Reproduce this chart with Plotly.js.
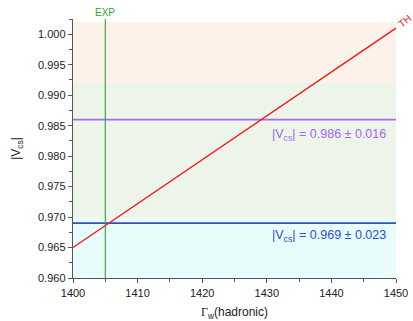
<!DOCTYPE html>
<html><head><meta charset="utf-8">
<script src="https://cdn.plot.ly/plotly-3.0.1.min.js"></script>
<style>body{margin:0;background:#fff}#c{width:413px;height:321px}</style>
</head><body><div id="c"></div>
<script>
// Data
const thX = [1400, 1450];
const thY = [0.965, 1.001];
const expX = 1405;
const measA = {value: 0.986, err: 0.016};
const measB = {value: 0.969, err: 0.023};
const xRange = [1400, 1450];
const yRange = [0.960, 1.0025];

const aLo = measA.value - measA.err, aHi = measA.value + measA.err;
const bLo = measB.value - measB.err, bHi = measB.value + measB.err;

const traces = [
  {x: xRange, y: [measB.value, measB.value], mode: 'lines', line: {color: '#3450b4', width: 1.6}, hoverinfo: 'skip'},
  {x: xRange, y: [measA.value, measA.value], mode: 'lines', line: {color: '#a86ce8', width: 1.8}, hoverinfo: 'skip'},
  {x: thX, y: thY, mode: 'lines', line: {color: '#f01818', width: 1.4}, hoverinfo: 'skip'},
  {x: [expX, expX], y: yRange, mode: 'lines', line: {color: '#2aa62a', width: 1.1}, hoverinfo: 'skip', cliponaxis: false}
];

const shapes = [
  {type: 'rect', xref: 'x', yref: 'y', x0: xRange[0], x1: xRange[1], y0: Math.max(aLo, bHi), y1: aHi, fillcolor: '#fdf2e9', line: {width: 0}, layer: 'below'},
  {type: 'rect', xref: 'x', yref: 'y', x0: xRange[0], x1: xRange[1], y0: aLo, y1: Math.min(aHi, bHi), fillcolor: '#edf4ea', line: {width: 0}, layer: 'below'},
  {type: 'rect', xref: 'x', yref: 'y', x0: xRange[0], x1: xRange[1], y0: bLo, y1: aLo, fillcolor: '#e9fcfc', line: {width: 0}, layer: 'below'}
];

const font = 'Liberation Sans, Arial, sans-serif';
const annotations = [
  {x: expX, y: 1, xref: 'x', yref: 'paper', yanchor: 'bottom', text: 'EXP', showarrow: false, font: {family: font, size: 10, color: '#2aa62a'}, yshift: -1},
  {x: thX[1], y: thY[1], xref: 'x', yref: 'y', text: 'TH', showarrow: false, textangle: -38, font: {family: font, size: 10, color: '#f01818'}, xshift: 8, yshift: 7},
  {x: 1448.8, y: measA.value, xref: 'x', yref: 'y', xanchor: 'right', yanchor: 'top', yshift: -5, text: '|V<sub>cs</sub>| = ' + measA.value.toFixed(3) + ' ± ' + measA.err.toFixed(3), showarrow: false, font: {family: font, size: 12.5, color: '#a468e6'}},
  {x: 1448.8, y: measB.value, xref: 'x', yref: 'y', xanchor: 'right', yanchor: 'top', yshift: -3, text: '|V<sub>cs</sub>| = ' + measB.value.toFixed(3) + ' ± ' + measB.err.toFixed(3), showarrow: false, font: {family: font, size: 12.5, color: '#2b4fd0'}}
];

const layout = {
  width: 413, height: 321,
  margin: {l: 73, r: 17, t: 19, b: 43},
  paper_bgcolor: '#fff', plot_bgcolor: 'rgba(0,0,0,0)',
  showlegend: false,
  font: {family: font, size: 11, color: '#222'},
  xaxis: {
    range: xRange, showgrid: false, zeroline: false, showline: true, linecolor: '#5a5550', linewidth: 1.3,
    ticks: 'outside', ticklen: 4, tickcolor: '#5a5550', dtick: 10, tick0: 1400,
    minor: {dtick: 5, ticks: 'outside', ticklen: 2.5, tickcolor: '#5a5550'},
    tickfont: {family: font, size: 11, color: '#222'},
    title: {text: '<span style="font-family:Liberation Serif,Times New Roman,serif">Γ</span><sub>w</sub>(hadronic)', font: {family: font, size: 12, color: '#222'}, standoff: 10}
  },
  yaxis: {
    range: yRange, showgrid: false, zeroline: false, showline: true, linecolor: '#5a5550', linewidth: 1.3,
    ticks: 'outside', ticklen: 4, tickcolor: '#5a5550', dtick: 0.005, tick0: 0.960, tickformat: '.3f',
    minor: {dtick: 0.0025, ticks: 'outside', ticklen: 2.5, tickcolor: '#5a5550'},
    tickfont: {family: font, size: 11, color: '#222'},
    title: {text: '|V<sub>cs</sub>|', font: {family: font, size: 12, color: '#222'}, standoff: 14}
  },
  shapes: shapes,
  annotations: annotations
};

Plotly.newPlot('c', traces, layout, {staticPlot: true, displayModeBar: false});
</script>
</body></html>
